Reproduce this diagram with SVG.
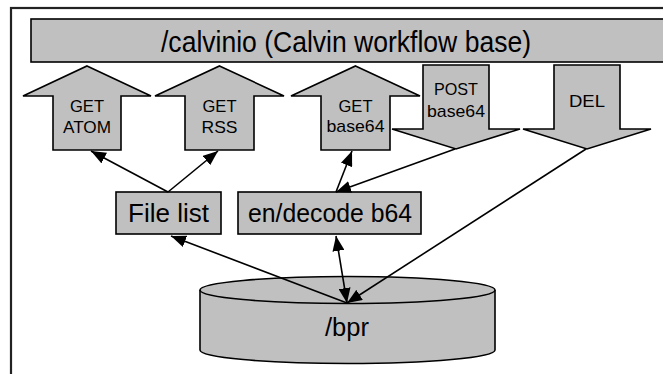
<svg xmlns="http://www.w3.org/2000/svg" width="663" height="374" viewBox="0 0 663 374">
<defs>
<style>
.s{fill:#c0c0c0;stroke:#000;stroke-width:1.6;stroke-linejoin:miter}
.t{font-family:"Liberation Sans",Arial,sans-serif;fill:#000;text-anchor:middle}
.c{stroke:#000;stroke-width:1.6;fill:none}
</style>
<marker id="ah" viewBox="0 0 10 8" refX="10" refY="4" markerWidth="15" markerHeight="12" markerUnits="userSpaceOnUse" orient="auto-start-reverse">
<path d="M0,0 L10,4 L0,8 z" fill="#000"/>
</marker>
</defs>
<rect x="0" y="0" width="663" height="374" fill="#fff"/>
<rect x="11" y="8" width="700" height="420" fill="none" stroke="#222" stroke-width="2.2"/>
<g id="calvinio">
<rect class="s" x="31" y="19" width="640" height="43"/>
<text class="t" x="346" y="52" font-size="29" textLength="370" lengthAdjust="spacingAndGlyphs">/calvinio (Calvin workflow base)</text>
</g>
<g id="get-atom">
<polygon class="s" points="87,66 151,96 121,96 121,150 53,150 53,96 23,96"/>
<text class="t" x="87" y="112" font-size="17" textLength="34" lengthAdjust="spacingAndGlyphs">GET</text>
<text class="t" x="87" y="133" font-size="17" textLength="48" lengthAdjust="spacingAndGlyphs">ATOM</text>
</g>
<g id="get-rss">
<polygon class="s" points="219.5,66 284,96 254,96 254,150 185,150 185,96 155,96"/>
<text class="t" x="219.5" y="112" font-size="17" textLength="34" lengthAdjust="spacingAndGlyphs">GET</text>
<text class="t" x="219.5" y="133" font-size="17" textLength="36" lengthAdjust="spacingAndGlyphs">RSS</text>
</g>
<g id="get-base64">
<polygon class="s" points="355.5,66 420,96 390,96 390,150 321,150 321,96 291,96"/>
<text class="t" x="355.5" y="112" font-size="17" textLength="34" lengthAdjust="spacingAndGlyphs">GET</text>
<text class="t" x="355.5" y="132" font-size="17" textLength="58" lengthAdjust="spacingAndGlyphs">base64</text>
</g>
<g id="post-base64">
<polygon class="s" points="423,65 489,65 489,129 520,129 456,149 392,129 423,129"/>
<text class="t" x="456" y="95" font-size="17" textLength="44" lengthAdjust="spacingAndGlyphs">POST</text>
<text class="t" x="456" y="117" font-size="17" textLength="58" lengthAdjust="spacingAndGlyphs">base64</text>
</g>
<g id="del">
<polygon class="s" points="554,65 620,65 620,129 651,129 587,149 523,129 554,129"/>
<text class="t" x="587" y="107" font-size="17" textLength="36" lengthAdjust="spacingAndGlyphs">DEL</text>
</g>
<g id="file-list">
<rect class="s" x="116" y="192" width="105" height="42"/>
<text class="t" x="168.5" y="222" font-size="26" textLength="81" lengthAdjust="spacingAndGlyphs">File list</text>
</g>
<g id="en-decode">
<rect class="s" x="238" y="192" width="183" height="42"/>
<text class="t" x="330" y="222" font-size="26" textLength="164" lengthAdjust="spacingAndGlyphs">en/decode b64</text>
</g>
<g id="bpr">
<path class="s" d="M200,290 L200,350 A147.5,13.5 0 0 0 495,350 L495,290"/>
<ellipse class="s" cx="347.5" cy="290" rx="147.5" ry="13.5"/>
<text class="t" x="347" y="336" font-size="25" textLength="44" lengthAdjust="spacingAndGlyphs">/bpr</text>
</g>
<g id="connectors">
<line class="c" x1="168" y1="192" x2="91" y2="151" marker-end="url(#ah)"/>
<line class="c" x1="168" y1="192" x2="218" y2="151" marker-end="url(#ah)"/>
<line class="c" x1="347" y1="303" x2="171" y2="236" marker-end="url(#ah)"/>
<line class="c" x1="336" y1="236" x2="347" y2="303" marker-start="url(#ah)" marker-end="url(#ah)"/>
<line class="c" x1="586" y1="149" x2="347" y2="303" marker-end="url(#ah)"/>
<line class="c" x1="455" y1="149" x2="336" y2="192" marker-end="url(#ah)"/>
<line class="c" x1="336" y1="192" x2="352" y2="151" marker-end="url(#ah)"/>
</g>
</svg>
